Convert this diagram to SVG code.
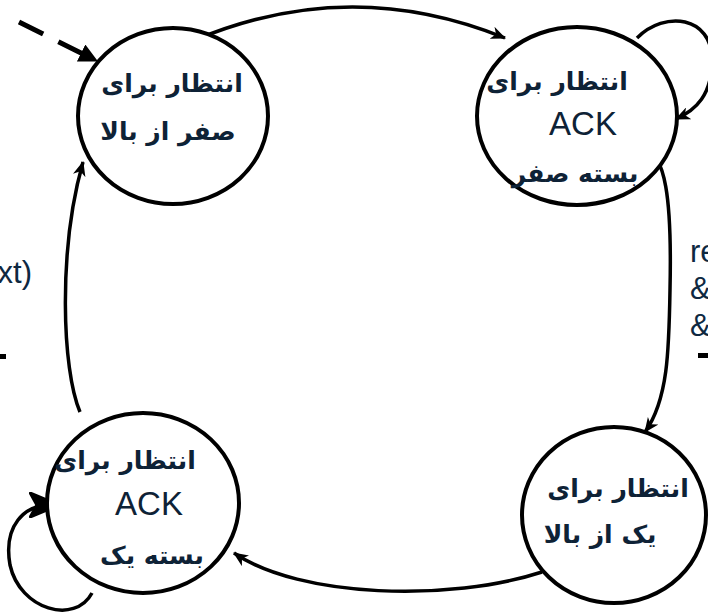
<svg xmlns="http://www.w3.org/2000/svg" width="708" height="616" viewBox="0 0 708 616">
  <defs>
    <style>
      .state { fill: #ffffff; stroke: #000000; stroke-width: 4; }
      .fa { font-family: "DejaVu Sans", "Noto Sans", sans-serif; font-weight: bold; font-size: 25px; fill: #0e2236; text-anchor: middle; }
      .ack { font-family: "Liberation Sans", Arial, sans-serif; font-size: 33px; fill: #0e2236; text-anchor: middle; }
      .edge { fill: none; stroke: #000000; stroke-width: 3.5; }
      .dash { fill: none; stroke: #000000; stroke-width: 5; stroke-dasharray: 27 17; }
      .side { font-family: "Liberation Sans", Arial, sans-serif; font-size: 31px; fill: #0e2841; }
    </style>
    <marker id="arrow" viewBox="0 0 14 12" refX="13" refY="6" markerWidth="15" markerHeight="13" markerUnits="userSpaceOnUse" orient="auto">
      <path d="M0,0 L14,6 L0,12 L4,6 z" fill="#000000"/>
    </marker>
    <marker id="arrow-big" viewBox="0 0 16 16" refX="15" refY="8" markerWidth="19" markerHeight="19" markerUnits="userSpaceOnUse" orient="auto">
      <path d="M0,0 L16,8 L0,16 z" fill="#000000"/>
    </marker>
    <marker id="arrow-blob" viewBox="0 0 20 20" refX="16" refY="10" markerWidth="26" markerHeight="26" markerUnits="userSpaceOnUse" orient="auto">
      <path d="M1,1 L18,8 L18,12 L1,19 L6,10 z" fill="#000000" stroke="#000000" stroke-width="2.5" stroke-linejoin="round"/>
    </marker>
  </defs>

  <rect width="708" height="616" fill="#ffffff"/>

  <!-- partial labels at the page edges -->
  <g id="edge-labels">
    <text class="side" x="32" y="283" text-anchor="end">xt)</text>
    <rect x="0" y="354" width="6" height="5" fill="#000000"/>
    <text class="side" x="690" y="262">re</text>
    <text class="side" x="690" y="299">&amp;</text>
    <text class="side" x="690" y="336">&amp;</text>
    <rect x="698" y="353" width="10" height="5" fill="#000000"/>
  </g>

  <!-- transitions -->
  <g id="connectors">
    <path class="dash" d="M19,22 L97,61" marker-end="url(#arrow-big)"/>
    <path class="edge" d="M195,40 Q350,-25 505,38" marker-end="url(#arrow)"/>
    <path class="edge" d="M637,38 C665,10 712,16 712,60 C712,95 696,110 676,119" marker-end="url(#arrow)"/>
    <path class="edge" d="M642,147 C666,152 672,200 670,290 C669,350 668,400 645,432" marker-end="url(#arrow)"/>
    <path class="edge" d="M542,572 C450,602 300,598 234,553" marker-end="url(#arrow)"/>
    <path class="edge" d="M80,412 C62,370 58,250 83,162" marker-end="url(#arrow)"/>
    <path class="edge" d="M92,593 C75,625 20,610 10,565 C3,525 25,505 50,505" marker-end="url(#arrow-blob)"/>
  </g>

  <g id="wait-zero-above">
    <ellipse class="state" cx="173" cy="116" rx="95" ry="88"/>
    <text class="fa" x="172" y="92">انتظار برای</text>
    <text class="fa" x="168" y="140">صفر از بالا</text>
  </g>

  <g id="wait-ack-zero">
    <ellipse class="state" cx="577" cy="116" rx="100" ry="89"/>
    <text class="fa" x="557" y="90">انتظار برای</text>
    <text class="ack" x="583" y="135">ACK</text>
    <text class="fa" x="575" y="182">بسته صفر</text>
  </g>

  <g id="wait-one-above">
    <ellipse class="state" cx="614" cy="515" rx="92" ry="88"/>
    <text class="fa" x="618" y="497">انتظار برای</text>
    <text class="fa" x="600" y="543">یک از بالا</text>
  </g>

  <g id="wait-ack-one">
    <ellipse class="state" cx="143" cy="503" rx="96" ry="90"/>
    <text class="fa" x="125" y="469">انتظار برای</text>
    <text class="ack" x="149" y="515">ACK</text>
    <text class="fa" x="152" y="564">بسته یک</text>
  </g>
</svg>
